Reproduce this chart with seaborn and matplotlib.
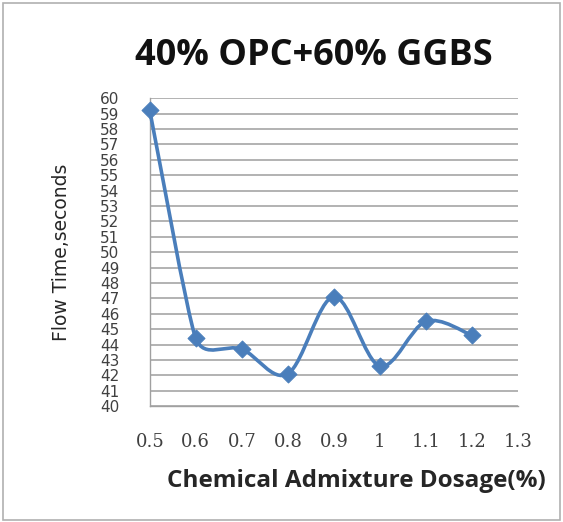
"""
Flow time vs chemical admixture dosage - 40% OPC + 60% GGBS
"""
import numpy as np
import pandas as pd
import matplotlib
matplotlib.use('Agg')
import matplotlib.pyplot as plt
from matplotlib.path import Path
from matplotlib.patches import PathPatch, Rectangle
import seaborn as sns

dosage = [0.5, 0.6, 0.7, 0.8, 0.9, 1.0, 1.1, 1.2]
flow_time = [59.2, 44.4, 43.7, 42.1, 47.1, 42.6, 45.5, 44.6]
x_ticks = [0.5, 0.6, 0.7, 0.8, 0.9, 1.0, 1.1, 1.2, 1.3]
x_labels = ['0.5', '0.6', '0.7', '0.8', '0.9', '1', '1.1', '1.2', '1.3']
y_ticks = list(range(40, 61))

df = pd.DataFrame({'dosage': dosage, 'flow_time': flow_time})

sns.set_style('white')
blue = '#4A7EBB'
narrow = ['Liberation Sans Narrow', 'DejaVu Sans']

fig = plt.figure(figsize=(5.63, 5.22), dpi=100)
ax = fig.add_axes([0.266, 0.222, 0.654, 0.59])
ax.set_xlim(0.5, 1.3)
ax.set_ylim(40, 60)

# Excel style smoothed line: bezier through the points, tangents worked out in pixels
pix = ax.transData.transform(np.column_stack([dosage, flow_time]))
n = len(pix)
ctrl_in, ctrl_out = [None] * n, [None] * n
for i in range(n):
    prev_p = pix[max(i - 1, 0)]
    next_p = pix[min(i + 1, n - 1)]
    t = next_p - prev_p
    tl = np.hypot(*t)
    lim = tl / 6
    if 0 < i < n - 1:
        lim = min(lim, np.hypot(*(pix[i] - prev_p)) / 2, np.hypot(*(next_p - pix[i])) / 2)
    u = t / tl * lim
    ctrl_in[i] = pix[i] - u
    ctrl_out[i] = pix[i] + u
verts = [pix[0]]
codes = [Path.MOVETO]
for i in range(n - 1):
    verts += [ctrl_out[i], ctrl_in[i + 1], pix[i + 1]]
    codes += [Path.CURVE4] * 3
verts = ax.transData.inverted().transform(np.array(verts))
ax.add_patch(PathPatch(Path(verts, codes), fill=False, edgecolor=blue, lw=2.6,
                       zorder=3, capstyle='round', joinstyle='round', clip_on=False))

sns.scatterplot(data=df, x='dosage', y='flow_time', marker='D', s=75,
                color=blue, edgecolor=blue, ax=ax, zorder=4, clip_on=False)

ax.set_yticks(y_ticks)
ax.set_yticklabels([str(v) for v in y_ticks], family=narrow, fontsize=11, color='#404040')
ax.set_xticks(x_ticks)
ax.set_xticklabels(x_labels, family='DejaVu Serif', fontsize=13, color='#404040')
ax.tick_params(axis='x', direction='out', length=5, color='#a0a0a0', pad=14)
ax.tick_params(axis='y', direction='out', length=5, color='#a0a0a0', pad=17)
ax.yaxis.grid(True, color='#a6a6a6', lw=1.2)
ax.xaxis.grid(False)
for side in ['top', 'right']:
    ax.spines[side].set_visible(False)
for side in ['left', 'bottom']:
    ax.spines[side].set_color('#a0a0a0')
    ax.spines[side].set_linewidth(1.0)

ax.set_xlabel('Chemical Admixture Dosage(%)', fontsize=17.5, fontweight='bold',
              family='Open Sans', color='#262626')
ax.set_ylabel('Flow Time,seconds', fontsize=13.5, family=narrow, color='#262626')
ax.xaxis.set_label_coords(0.56, -0.205)
ax.yaxis.set_label_coords(-0.215, 0.5)

fig.suptitle('40% OPC+60% GGBS', x=0.558, y=0.927, fontsize=26, fontweight='bold',
             family='Open Sans', color='#111111')

fig.add_artist(Rectangle((0.006, 0.004), 0.988, 0.99, transform=fig.transFigure,
                         fill=False, edgecolor='#b0b0b0', lw=1.2))

plt.savefig('out.png', dpi=100)
